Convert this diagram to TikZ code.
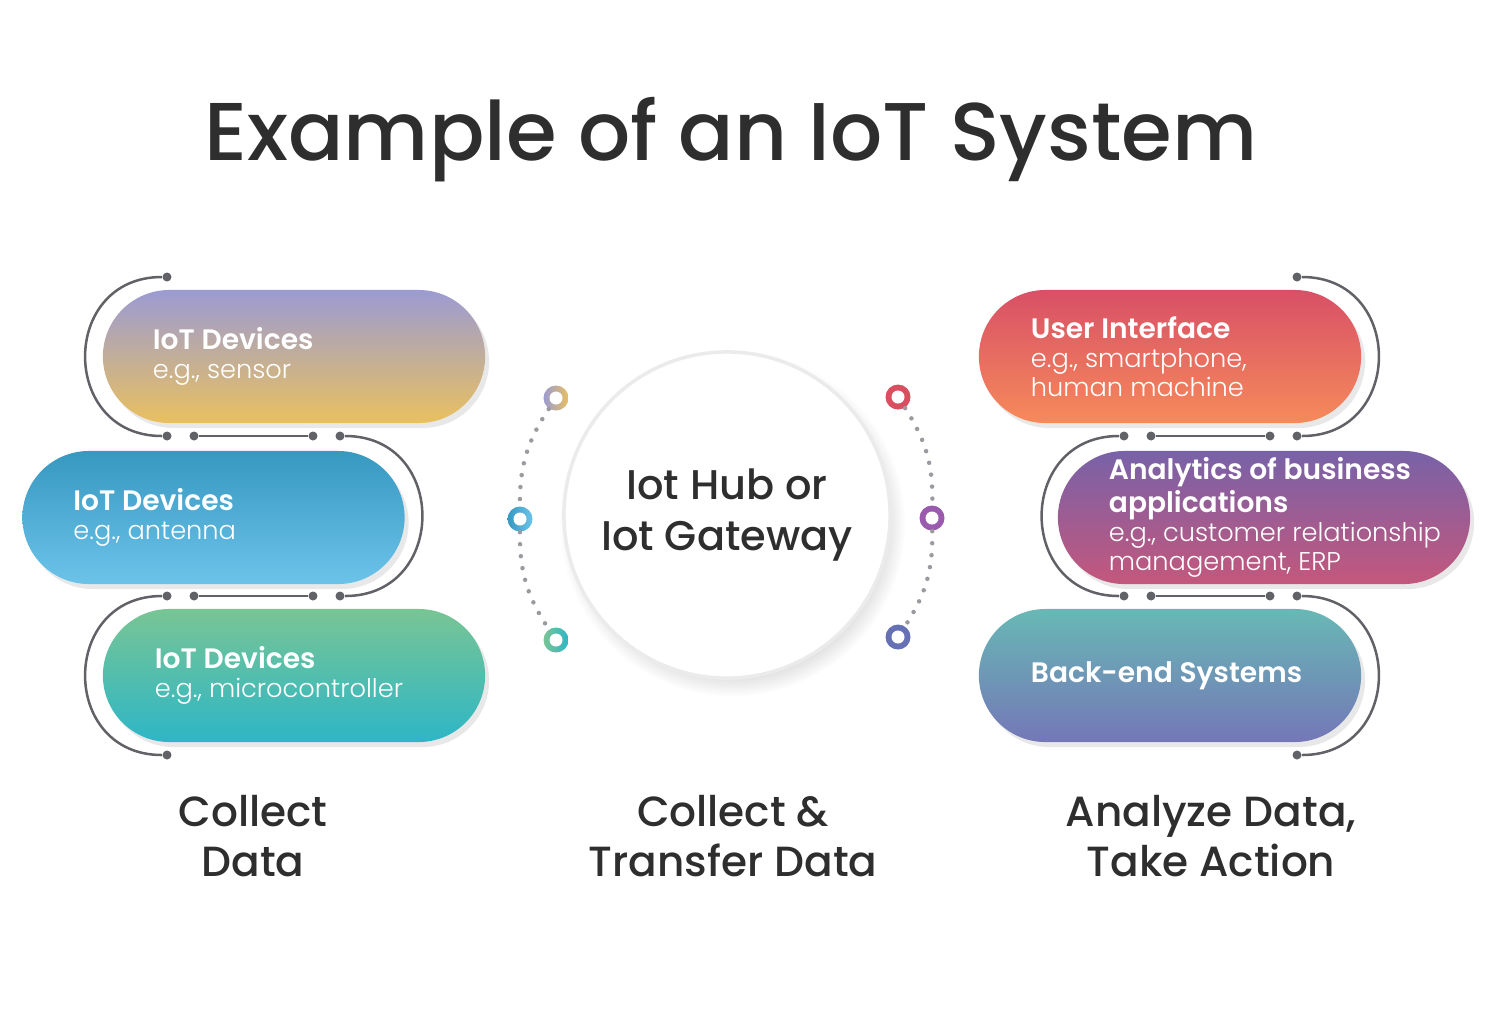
\documentclass[tikz,border=0pt]{standalone}
\usepackage{fontspec}
\setmainfont{Poppins}
\IfFontExistsTF{Poppins Light}{\newfontfamily\lightfont{Poppins Light}}{\newcommand\lightfont{\normalfont}}
\IfFontExistsTF{Poppins Medium}{\newfontfamily\medfont{Poppins Medium}}{\newcommand\medfont{\normalfont}}
\IfFontExistsTF{Poppins SemiBold}{\newfontfamily\semifont{Poppins SemiBold}}{\newcommand\semifont{\bfseries}}
\newcommand\headfont{\semifont\fontsize{8}{8.2}\selectfont}
\usetikzlibrary{positioning, shadows}

\definecolor{titlegray}{HTML}{2E2E2E}
\definecolor{linegray}{HTML}{616267}
\definecolor{dotgray}{HTML}{9A9AA0}
\definecolor{hubrim}{HTML}{EBEBEB}
% pill colours, top / bottom
\definecolor{sensortop}{HTML}{9B9BD3}
\definecolor{sensorbot}{HTML}{E9C05F}
\definecolor{antennatop}{HTML}{3798C0}
\definecolor{antennabot}{HTML}{6CC3EA}
\definecolor{microtop}{HTML}{78C594}
\definecolor{microbot}{HTML}{2EB6C6}
\definecolor{uitop}{HTML}{D85066}
\definecolor{uibot}{HTML}{F68A5B}
\definecolor{biztop}{HTML}{7862A8}
\definecolor{bizbot}{HTML}{C4577C}
\definecolor{backtop}{HTML}{68B8B5}
\definecolor{backbot}{HTML}{7477B7}
\definecolor{ringred}{HTML}{D94F60}
\definecolor{ringpurple}{HTML}{9A5BAE}
\definecolor{ringblue}{HTML}{6570B5}

\begin{document}
\begin{tikzpicture}[
    x=0.01cm, y=0.01cm,
    pill/.style={rectangle, rounded corners=0.665cm, minimum width=3.82cm, minimum height=1.33cm, inner sep=0pt,
        drop shadow={opacity=0.18, shadow xshift=0.04cm, shadow yshift=-0.05cm}},
    pilltext/.style={text=white, align=left, inner sep=0pt, font=\fontsize{7.3}{8.2}\selectfont},
    dot/.style={circle, fill=linegray, inner sep=0pt, minimum size=0.09cm},
    link/.style={draw=linegray, line width=0.025cm},
    hub/.style={circle, fill=white, draw=hubrim, line width=0.035cm, minimum size=3.26cm, align=center,
        text=titlegray, font=\medfont\fontsize{11.8}{14.5}\selectfont,
        circular drop shadow={shadow xshift=0.05cm, shadow yshift=-0.08cm, shadow scale=1.06, opacity=0.3}},
    ring/.style={circle, inner sep=0pt, minimum size=0.25cm,
        path picture={\fill[white] (path picture bounding box.center) circle (0.065cm);}},
    dotline/.style={draw=dotgray, line width=0.045cm, line cap=round, dash pattern=on 0pt off 0.12cm},
    stage/.style={text=titlegray, align=center, font=\medfont\fontsize{12}{14.2}\selectfont}
]
    \useasboundingbox (0,0) rectangle (1500,-1011);

    % Title
    \node[anchor=base, text=titlegray, font=\medfont\fontsize{23.3}{28}\selectfont] (title) at (731,-160) {Example of an IoT System};

    % Collect data
    \node[pill, top color=sensortop, bottom color=sensorbot] (l1) at (294,-356.5) {};
    \node[pill, top color=antennatop, bottom color=antennabot] (l2) at (213.5,-517.5) {};
    \node[pill, top color=microtop, bottom color=microbot] (l3) at (294,-675.5) {};
    \node[pilltext, right=0.5cm of l1.west] (l1t) {{\headfont IoT Devices}\\{\lightfont e.g., sensor}};
    \node[pilltext, right=0.51cm of l2.west] (l2t) {{\headfont IoT Devices}\\{\lightfont e.g., antenna}};
    \node[pilltext, right=0.52cm of l3.west] (l3t) {{\headfont IoT Devices}\\{\lightfont e.g., microcontroller}};

    \foreach \n/\x/\y in {ltop/167/277, la1/167/436, la2/194/436, la3/313/436, la4/340/436,
        lb1/167/596, lb2/194/596, lb3/313/596, lb4/340/596, lbot/167/755} {
        \node[dot] (\n) at (\x,-\y) {};
    }
    \draw[link] (ltop) to[out=180, in=180, looseness=1.65] (la1);
    \draw[link] (la2) -- (la3);
    \draw[link] (la4) to[out=0, in=0, looseness=1.65] (lb4);
    \draw[link] (lb2) -- (lb3);
    \draw[link] (lb1) to[out=180, in=180, looseness=1.65] (lbot);

    % Analyze data
    \node[pill, top color=uitop, bottom color=uibot] (r1) at (1170,-356.5) {};
    \node[pill, minimum width=4.12cm, top color=biztop, bottom color=bizbot] (r2) at (1264,-517.5) {};
    \node[pill, top color=backtop, bottom color=backbot] (r3) at (1170,-675.5) {};
    \node[pilltext, right=0.52cm of r1.west] (r1t) {{\headfont User Interface}\\{\lightfont e.g., smartphone,}\\{\lightfont human machine}};
    \node[pilltext, right=0.51cm of r2.west] (r2t) {{\headfont Analytics of business}\\{\headfont applications}\\{\lightfont e.g., customer relationship}\\{\lightfont management, ERP}};
    \node[pilltext, right=0.52cm of r3.west] (r3t) {{\headfont Back-end Systems}};

    \foreach \n/\x/\y in {rtop/1297/277, ra1/1124/436, ra2/1151/436, ra3/1270/436, ra4/1297/436,
        rb1/1124/596, rb2/1151/596, rb3/1270/596, rb4/1297/596, rbot/1297/755} {
        \node[dot] (\n) at (\x,-\y) {};
    }
    \draw[link] (rtop) to[out=0, in=0, looseness=1.65] (ra4);
    \draw[link] (ra2) -- (ra3);
    \draw[link] (ra1) to[out=180, in=180, looseness=1.65] (rb1);
    \draw[link] (rb2) -- (rb3);
    \draw[link] (rb4) to[out=0, in=0, looseness=1.65] (rbot);

    % Hub
    \node[hub] (hub) at (727,-515) {Iot Hub or\\Iot Gateway};
    \node[ring, left color=sensortop, right color=sensorbot] (rlt) at (556,-398) {};
    \node[ring, left color=antennatop, right color=antennabot] (rlm) at (520,-519) {};
    \node[ring, left color=microtop, right color=microbot] (rlb) at (556,-640) {};
    \node[ring, fill=ringred] (rrt) at (898,-397) {};
    \node[ring, fill=ringpurple] (rrm) at (932,-518) {};
    \node[ring, fill=ringblue] (rrb) at (898,-637) {};
    \draw[dotline] (rlt) to[bend right=17] (rlm);
    \draw[dotline] (rlm) to[bend right=17] (rlb);
    \draw[dotline] (rrt) to[bend left=17] (rrm);
    \draw[dotline] (rrm) to[bend left=17] (rrb);

    % Stages
    \node[stage] (s1) at (253,-836) {Collect\\Data};
    \node[stage] (s2) at (733,-836) {Collect \&\\Transfer Data};
    \node[stage] (s3) at (1211,-836) {Analyze Data,\\Take Action};

\end{tikzpicture}
\end{document}
